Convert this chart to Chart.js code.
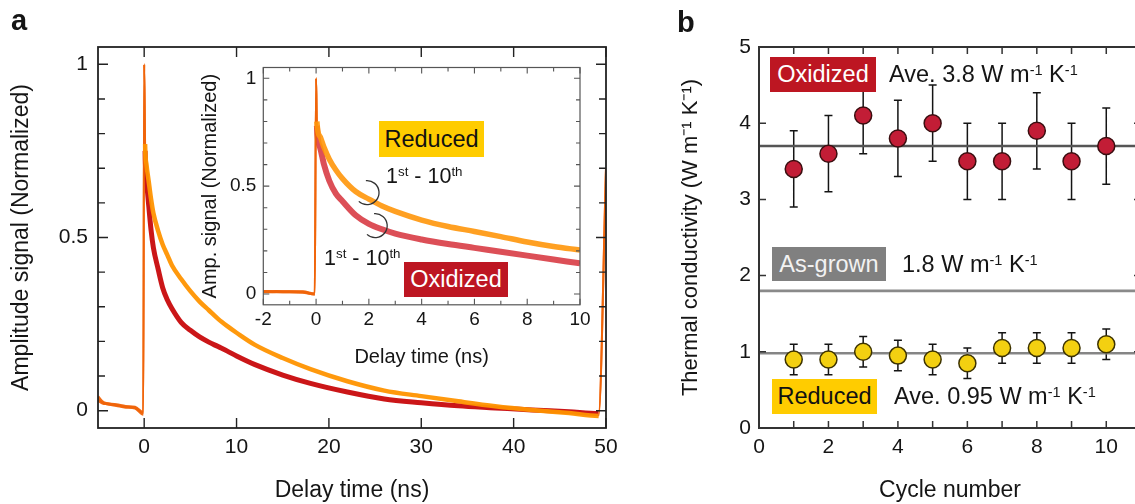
<!DOCTYPE html>
<html><head><meta charset="utf-8">
<script src="https://cdn.jsdelivr.net/npm/chart.js@4.4.1/dist/chart.umd.min.js"></script>
<style>
html,body{margin:0;padding:0;width:1135px;height:504px;overflow:hidden;background:#fff;}
body{position:relative;font-family:"Liberation Sans",Arial,Helvetica,sans-serif;color:#151515;}
canvas{position:absolute;}
.lbl{position:absolute;white-space:nowrap;}
.box{position:absolute;text-align:center;font-size:23.5px;white-space:nowrap;}
sup{font-size:0.62em;vertical-align:0.5em;line-height:0;}
</style></head>
<body>
<canvas id="cMain" width="640" height="504" style="left:0px;top:0px"></canvas>
<canvas id="cInset" width="425" height="340" style="left:185px;top:40px"></canvas>
<canvas id="cB" width="520" height="504" style="left:640px;top:0px"></canvas>

<div class="lbl" style="left:11px;top:6px;font-size:29px;font-weight:bold;line-height:29px">a</div>
<div class="lbl" style="left:677px;top:8px;font-size:29px;font-weight:bold;line-height:29px">b</div>

<div class="box" style="left:379px;top:121px;width:105px;height:36px;line-height:36px;background:#ffcc00;color:#111">Reduced</div>
<div class="box" style="left:404px;top:262px;width:104px;height:35px;line-height:35px;background:#bd1622;color:#fff">Oxidized</div>
<div class="lbl" style="left:386px;top:164px;font-size:21.5px;line-height:24px">1<sup>st</sup> - 10<sup>th</sup></div>
<div class="lbl" style="left:324px;top:246px;font-size:21.5px;line-height:24px">1<sup>st</sup> - 10<sup>th</sup></div>

<div class="box" style="left:770px;top:57px;width:106px;height:35px;line-height:35px;background:#bd1622;color:#fff">Oxidized</div>
<div class="lbl" style="left:889px;top:57px;line-height:35px;font-size:23.5px">Ave. 3.8 W m<sup>-1</sup> K<sup>-1</sup></div>
<div class="box" style="left:772px;top:247px;width:114px;height:34px;line-height:34px;background:#808080;color:#f2f2f2">As-grown</div>
<div class="lbl" style="left:902px;top:247px;line-height:34px;font-size:23.5px">1.8 W m<sup>-1</sup> K<sup>-1</sup></div>
<div class="box" style="left:772px;top:379px;width:105px;height:35px;line-height:35px;background:#ffcc00;color:#111">Reduced</div>
<div class="lbl" style="left:894px;top:379px;line-height:35px;font-size:23.5px">Ave. 0.95 W m<sup>-1</sup> K<sup>-1</sup></div>

<script>
// ---------- Panel a: main decay traces ----------
const mainTime     = [-5, -4.5, -4, -3, -2, -1, -0.1, 0, 0.1, 0.25, 0.5, 0.75, 1, 1.5, 2, 2.5, 3, 4, 5, 6, 7, 8, 9, 10, 12, 15, 18, 22, 26, 30, 34, 38, 42, 46, 49.2, 50];
const mainReduced  = [0.04, 0.025, 0.02, 0.015, 0.01, 0.008, -0.01, 1.0, 0.77, 0.71, 0.66, 0.61, 0.57, 0.52, 0.48, 0.45, 0.42, 0.38, 0.345, 0.315, 0.29, 0.265, 0.244, 0.225, 0.19, 0.152, 0.12, 0.085, 0.058, 0.042, 0.027, 0.013, 0.002, -0.007, -0.015, 0.7];
const mainOxidized = [0.03, 0.022, 0.02, 0.017, 0.012, 0.01, -0.005, 1.0, 0.75, 0.67, 0.59, 0.52, 0.47, 0.41, 0.355, 0.32, 0.295, 0.255, 0.232, 0.213, 0.198, 0.185, 0.172, 0.158, 0.133, 0.103, 0.079, 0.054, 0.034, 0.023, 0.014, 0.008, 0.002, -0.003, -0.008, 0.7];
const mainXTicks = [0, 10, 20, 30, 40, 50];
const mainYTicks = [0, 0.5, 1];
const mainYMinor = [0.1, 0.2, 0.3, 0.4, 0.6, 0.7, 0.8, 0.9];

// ---------- Panel a: inset (first 10 ns) ----------
const insetTime     = [-2, -1.5, -1, -0.5, -0.05, 0, 0.03, 0.15, 0.3, 0.5, 0.75, 1, 1.5, 2, 2.5, 3, 4, 5, 6, 7, 8, 9, 10];
const insetReduced  = [0.012, 0.01, 0.01, 0.008, 0.0, 1.0, 0.8, 0.73, 0.68, 0.625, 0.575, 0.535, 0.475, 0.44, 0.408, 0.383, 0.343, 0.313, 0.29, 0.266, 0.241, 0.22, 0.204];
const insetOxidized = [0.01, 0.012, 0.01, 0.01, 0.0, 1.0, 0.78, 0.68, 0.6, 0.525, 0.465, 0.43, 0.365, 0.325, 0.3, 0.28, 0.253, 0.232, 0.214, 0.196, 0.178, 0.16, 0.142];
const insetXTicks = [-2, 0, 2, 4, 6, 8, 10];
const insetXMinor = [-1, 1, 3, 5, 7, 9];
const insetYTicks = [0, 0.5, 1];
const insetYMinor = [0.1, 0.2, 0.3, 0.4, 0.6, 0.7, 0.8, 0.9];
// bracket annotations (data coordinates: time, amplitude)
const insetBrackets = [{t: 1.93, v: 0.47}, {t: 2.24, v: 0.317}];

// ---------- Panel b: thermal conductivity vs cycle ----------
const cycles        = [1, 2, 3, 4, 5, 6, 7, 8, 9, 10];
const oxidizedK     = [3.4, 3.6, 4.1, 3.8, 4.0, 3.5, 3.5, 3.9, 3.5, 3.7];
const oxidizedErr   = [0.5, 0.5, 0.5, 0.5, 0.5, 0.5, 0.5, 0.5, 0.5, 0.5];
const reducedK      = [0.9, 0.9, 1.0, 0.95, 0.9, 0.85, 1.05, 1.05, 1.05, 1.1];
const reducedErr    = [0.2, 0.2, 0.2, 0.2, 0.2, 0.2, 0.2, 0.2, 0.2, 0.2];
const oxidizedLevel = 3.7;
const asGrownLevel  = 1.8;
const reducedLevel  = 0.98;
const bXTicks = [0, 2, 4, 6, 8, 10];
const bXMinor = [1, 3, 5, 7, 9];
const bYTicks = [0, 1, 2, 3, 4, 5];

const FONT = '"Liberation Sans", Arial, Helvetica, sans-serif';
const TXT = '#151515';
const SPIKE = 'rgba(240,100,10,0.95)';
const zip = (xs, ys) => xs.map((x, i) => ({x: x, y: ys[i]}));
const setTicks = arr => (s => { s.ticks = arr.map(v => ({value: v})); });
const isJump = c => Math.abs(c.p1.parsed.y - c.p0.parsed.y) > 0.15;
const isBase = c => c.p1.parsed.x <= 0;
const traceSegment = {
  borderWidth: c => isJump(c) ? 2 : (isBase(c) ? 3 : undefined),
  borderColor: c => (isJump(c) || isBase(c)) ? SPIKE : undefined
};

const framePlugin = {
  id: 'frame',
  afterDraw(chart, args, o) {
    const {ctx, chartArea: a, scales: {x, y}} = chart;
    ctx.save();
    ctx.strokeStyle = o.color;
    ctx.lineWidth = o.tickWidth;
    ctx.beginPath();
    const xt = (vals, len) => vals.forEach(v => {
      const p = x.getPixelForValue(v);
      ctx.moveTo(p, a.bottom); ctx.lineTo(p, a.bottom - len);
      ctx.moveTo(p, a.top); ctx.lineTo(p, a.top + len);
    });
    const yt = (vals, len) => vals.forEach(v => {
      const p = y.getPixelForValue(v);
      ctx.moveTo(a.left, p); ctx.lineTo(a.left + len, p);
      ctx.moveTo(a.right, p); ctx.lineTo(a.right - len, p);
    });
    xt(o.xMajor, o.majorLen); xt(o.xMinor || [], o.minorLen);
    yt(o.yMajor, o.majorLen); yt(o.yMinor || [], o.minorLen);
    ctx.stroke();
    ctx.lineWidth = o.width;
    ctx.strokeRect(a.left, a.top, a.right - a.left, a.bottom - a.top);
    ctx.restore();
  }
};

const bracketPlugin = {
  id: 'brackets',
  afterDatasetsDraw(chart, args, o) {
    if (!o.items) return;
    const {ctx, scales: {x, y}} = chart;
    ctx.save();
    ctx.strokeStyle = '#333';
    ctx.lineWidth = 1.3;
    o.items.forEach(b => {
      ctx.beginPath();
      ctx.arc(x.getPixelForValue(b.t), y.getPixelForValue(b.v), 12, -Math.PI * 0.53, Math.PI * 0.74);
      ctx.stroke();
    });
    ctx.restore();
  }
};

const errorBarPlugin = {
  id: 'errbars',
  beforeDatasetsDraw(chart, args, o) {
    if (!o.sets) return;
    const {ctx, scales: {x, y}} = chart;
    ctx.save();
    ctx.strokeStyle = '#141414';
    ctx.lineWidth = 1.5;
    ctx.beginPath();
    o.sets.forEach(s => s.ys.forEach((v, i) => {
      const px = x.getPixelForValue(s.xs[i]);
      const t = y.getPixelForValue(v + s.err[i]);
      const b = y.getPixelForValue(v - s.err[i]);
      ctx.moveTo(px, t); ctx.lineTo(px, b);
      ctx.moveTo(px - 4, t); ctx.lineTo(px + 4, t);
      ctx.moveTo(px - 4, b); ctx.lineTo(px + 4, b);
    }));
    ctx.stroke();
    ctx.restore();
  }
};

function axis(opts) {
  return {
    type: 'linear', min: opts.min, max: opts.max,
    afterBuildTicks: setTicks(opts.ticks),
    afterFit: opts.fit,
    grid: {display: false, drawTicks: false},
    border: {display: false},
    ticks: {font: {family: FONT, size: opts.tickSize}, color: TXT, padding: opts.tickPad, maxRotation: 0, autoSkip: false,
            callback: v => String(v)},
    title: {display: true, text: opts.title, font: {family: FONT, size: opts.titleSize}, color: TXT,
            padding: opts.titlePad}
  };
}

const common = {responsive: false, animation: false, events: [],
  plugins: {legend: {display: false}, tooltip: {enabled: false}}};

function trace(label, xs, ys, color, width) {
  return {label: label, data: zip(xs, ys), borderColor: color, borderWidth: width, pointRadius: 0,
          cubicInterpolationMode: 'monotone', segment: traceSegment};
}

// main chart
new Chart(document.getElementById('cMain'), {
  type: 'line',
  data: {datasets: [
    trace('Reduced', mainTime, mainReduced, 'rgba(255,148,0,0.95)', 4.5),
    trace('Oxidized', mainTime, mainOxidized, 'rgba(200,10,12,0.95)', 5)
  ]},
  options: Object.assign({}, common, {
    layout: {padding: {top: 47, right: 34, left: 0, bottom: 0}},
    plugins: Object.assign({}, common.plugins, {
      frame: {color: '#222', width: 1.8, tickWidth: 1.4, majorLen: 10, minorLen: 7,
              xMajor: mainXTicks, yMajor: mainYTicks, yMinor: mainYMinor}
    }),
    scales: {
      x: axis({min: -5, max: 50, ticks: mainXTicks, fit: s => { s.height = 76; }, tickSize: 21, tickPad: 7,
               title: 'Delay time (ns)', titleSize: 23, titlePad: {top: 0, bottom: 0}}),
      y: axis({min: -0.05, max: 1.05, ticks: mainYTicks, fit: s => { s.width = 98; }, tickSize: 21, tickPad: 10,
               title: 'Amplitude signal (Normalized)', titleSize: 23, titlePad: {top: 8, bottom: 0}})
    }
  }),
  plugins: [framePlugin]
});

// inset chart
new Chart(document.getElementById('cInset'), {
  type: 'line',
  data: {datasets: [
    trace('Reduced', insetTime, insetReduced, 'rgba(255,150,10,0.9)', 5.5),
    trace('Oxidized', insetTime, insetOxidized, 'rgba(212,40,50,0.82)', 6)
  ]},
  options: Object.assign({}, common, {
    layout: {padding: {top: 27.5, right: 30, left: 0, bottom: 0}},
    plugins: Object.assign({}, common.plugins, {
      frame: {color: '#555', width: 1.2, tickWidth: 1.1, majorLen: 6, minorLen: 4,
              xMajor: insetXTicks, xMinor: insetXMinor, yMajor: insetYTicks, yMinor: insetYMinor},
      brackets: {items: insetBrackets}
    }),
    scales: {
      x: axis({min: -2, max: 10, ticks: insetXTicks, fit: s => { s.height = 75.2; }, tickSize: 19, tickPad: 4,
               title: 'Delay time (ns)', titleSize: 20, titlePad: {top: 0, bottom: 11}}),
      y: axis({min: -0.05, max: 1.05, ticks: insetYTicks, fit: s => { s.width = 78.3; }, tickSize: 19, tickPad: 7,
               title: 'Amp. signal (Normalized)', titleSize: 20, titlePad: {top: 13, bottom: 0}})
    }
  }),
  plugins: [framePlugin, bracketPlugin]
});

// panel b
new Chart(document.getElementById('cB'), {
  type: 'scatter',
  data: {datasets: [
    {label: 'Oxidized', data: zip(cycles, oxidizedK), backgroundColor: '#c21d36', borderColor: '#3a0e10', borderWidth: 1.5, pointRadius: 8.5, order: 0},
    {label: 'Reduced', data: zip(cycles, reducedK), backgroundColor: '#f3d011', borderColor: '#3d3300', borderWidth: 1.5, pointRadius: 8.5, order: 0},
    {label: 'Oxidized average', type: 'line', data: [{x: 0, y: oxidizedLevel}, {x: 11, y: oxidizedLevel}], borderColor: '#555', borderWidth: 2.6, pointRadius: 0, order: 1},
    {label: 'As-grown', type: 'line', data: [{x: 0, y: asGrownLevel}, {x: 11, y: asGrownLevel}], borderColor: '#8a8a8a', borderWidth: 2.6, pointRadius: 0, order: 1},
    {label: 'Reduced average', type: 'line', data: [{x: 0, y: reducedLevel}, {x: 11, y: reducedLevel}], borderColor: '#858585', borderWidth: 2.6, pointRadius: 0, order: 1}
  ]},
  options: Object.assign({}, common, {
    layout: {padding: {top: 47, right: 19, left: 0, bottom: 0}},
    plugins: Object.assign({}, common.plugins, {
      frame: {color: '#333', width: 2, tickWidth: 1.5, majorLen: 7, minorLen: 7,
              xMajor: bXTicks, xMinor: bXMinor, yMajor: bYTicks},
      errbars: {sets: [{xs: cycles, ys: oxidizedK, err: oxidizedErr}, {xs: cycles, ys: reducedK, err: reducedErr}]}
    }),
    scales: {
      x: axis({min: 0, max: 11, ticks: bXTicks, fit: s => { s.height = 76; }, tickSize: 21, tickPad: 7,
               title: 'Cycle number', titleSize: 23, titlePad: {top: 0, bottom: 0}}),
      y: axis({min: 0, max: 5, ticks: bYTicks, fit: s => { s.width = 119; }, tickSize: 21, tickPad: 8,
               title: 'Thermal conductivity (W m\u207B\u00B9 K\u207B\u00B9)', titleSize: 22, titlePad: {top: 38, bottom: 0}})
    }
  }),
  plugins: [framePlugin, errorBarPlugin]
});
</script>
</body></html>
